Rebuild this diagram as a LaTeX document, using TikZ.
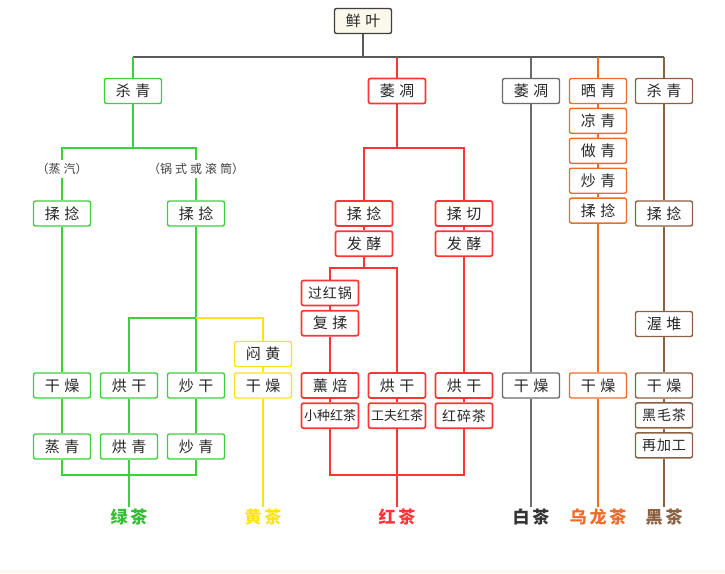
\documentclass[tikz,border=0pt]{standalone}
\usepackage{fontspec}
\setmainfont{Noto Sans CJK SC}
\usepackage{tikz}
\usetikzlibrary{positioning}
\definecolor{teaGreen}{HTML}{3AD23A}
\definecolor{teaYellow}{HTML}{FFE21A}
\definecolor{teaRed}{HTML}{FF3535}
\definecolor{teaGrey}{HTML}{6A6A6A}
\definecolor{teaOolong}{HTML}{F26A2A}
\definecolor{teaDark}{HTML}{8C6040}
\definecolor{leafFill}{HTML}{FBF9EC}
\newcommand{\tgap}{\hspace{4.5pt}}
\newcommand{\tsgap}{\hspace{1pt}}
\newcommand{\ngap}{\hspace{3pt}}
\tikzset{
  stepbox/.style={
    draw, rounded corners=2pt, fill=white, line width=1.4pt,
    minimum width=57pt, minimum height=25pt, inner sep=0pt,
    font=\fontsize{15}{17}\selectfont, text=black!85
  },
  gbox/.style={stepbox, draw=teaGreen},
  ybox/.style={stepbox, draw=teaYellow},
  rbox/.style={stepbox, draw=teaRed, line width=1.7pt},
  wbox/.style={stepbox, draw=teaGrey},
  obox/.style={stepbox, draw=teaOolong},
  dbox/.style={stepbox, draw=teaDark},
  midtxt/.style={font=\fontsize{14}{16}\selectfont},
  smalltxt/.style={font=\fontsize{13}{15}\selectfont},
  leafbox/.style={stepbox, fill=leafFill, draw=black!75},
  note/.style={font=\fontsize{12}{14}\selectfont, text=black!75, inner sep=3pt},
  teaname/.style={font=\fontsize{17}{19}\selectfont\bfseries, inner sep=2pt},
  link/.style={line width=1.4pt},
  kline/.style={link, black!65},
  gline/.style={link, teaGreen},
  yline/.style={link, teaYellow},
  rline/.style={link, teaRed, line width=2pt},
  wline/.style={link, teaGrey},
  oline/.style={link, teaOolong},
  dline/.style={link, teaDark}
}
\begin{document}
\begin{tikzpicture}[x=1pt, y=-1pt, node distance=3.5pt]
  \useasboundingbox (0,0) rectangle (725,573);
  \fill[leafFill] (0,570) rectangle (725,573);

  % fresh leaf and the five heads
  \node[leafbox] (leaf) at (363,21) {鲜\tgap 叶};
  \coordinate (leafBar) at (363,57);
  \node[gbox] (gSha) at (133,91) {杀\tgap 青};
  \node[rbox] (rWei) at (397,91) {萎\tgap 凋};
  \node[wbox] (wWei) at (531,91) {萎\tgap 凋};
  \node[obox] (oShai) at (598,91) {晒\tgap 青};
  \node[dbox] (dSha) at (664,91) {杀\tgap 青};

  % green and yellow
  \coordinate (gSplit) at (133,148);
  \node[note] (gSteam) at (62,169) {（蒸\ngap 汽）};
  \node[note] (gPan) at (196,169) {（锅\ngap 式\ngap 或\ngap 滚\ngap 筒）};
  \node[gbox] (gRou1) at (62,213.5) {揉\tgap 捻};
  \node[gbox] (gRou2) at (196,213.5) {揉\tgap 捻};
  \coordinate (gFork) at (196,318);
  \node[ybox] (yMen) at (263,354) {闷\tgap 黄};
  \node[gbox] (gDry) at (62,385.5) {干\tgap 燥};
  \node[gbox] (gHong) at (129,385.5) {烘\tgap 干};
  \node[gbox] (gChao) at (196,385.5) {炒\tgap 干};
  \node[ybox] (yDry) at (263,385.5) {干\tgap 燥};
  \node[gbox] (gZheng) at (62,446.5) {蒸\tgap 青};
  \node[gbox] (gHongQ) at (129,446.5) {烘\tgap 青};
  \node[gbox] (gChaoQ) at (196,446.5) {炒\tgap 青};
  \coordinate (gJoin) at (129,475);
  \node[teaname, text=teaGreen!90!black] (gTea) at (129,517) {绿\ngap 茶};
  \node[teaname, text=teaYellow] (yTea) at (263,517) {黄\ngap 茶};

  % red
  \coordinate (rSplit) at (397,148);
  \node[rbox] (rRou) at (364,213.5) {揉\tgap 捻};
  \node[rbox, below=of rRou] (rFa) {发\tgap 酵};
  \node[rbox] (rQie) at (464,213.5) {揉\tgap 切};
  \node[rbox, below=of rQie] (rFa2) {发\tgap 酵};
  \coordinate (rFork) at (364,268);
  \node[rbox, midtxt] (rGuo) at (330,293) {过\tsgap 红\tsgap 锅};
  \node[rbox, below=of rGuo] (rFu) {复\tgap 揉};
  \node[rbox] (rXun) at (330,385.5) {薰\tgap 焙};
  \node[rbox, smalltxt, below=of rXun] (rXiao) {小种红茶};
  \node[rbox] (rHong1) at (397,385.5) {烘\tgap 干};
  \node[rbox, smalltxt, below=of rHong1] (rGong) {工夫红茶};
  \node[rbox] (rHong2) at (464,385.5) {烘\tgap 干};
  \node[rbox, midtxt, below=of rHong2] (rSui) {红\tsgap 碎\tsgap 茶};
  \coordinate (rJoin) at (397,475);
  \node[teaname, text=teaRed] (rTea) at (397,517) {红\ngap 茶};

  % white
  \node[wbox] (wDry) at (531,385.5) {干\tgap 燥};
  \node[teaname, text=black!80] (wTea) at (531,517) {白\ngap 茶};

  % oolong
  \node[obox, below=of oShai] (oLiang) {凉\tgap 青};
  \node[obox, below=of oLiang] (oZuo) {做\tgap 青};
  \node[obox, below=of oZuo] (oChao) {炒\tgap 青};
  \node[obox, below=of oChao] (oRou) {揉\tgap 捻};
  \node[obox] (oDry) at (598,385.5) {干\tgap 燥};
  \node[teaname, text=teaOolong] (oTea) at (598,517) {乌\ngap 龙\ngap 茶};

  % dark
  \node[dbox] (dRou) at (664,213.5) {揉\tgap 捻};
  \node[dbox] (dWo) at (664,324) {渥\tgap 堆};
  \node[dbox] (dDry) at (664,385.5) {干\tgap 燥};
  \node[dbox, midtxt, below=of dDry] (dMao) {黑\tsgap 毛\tsgap 茶};
  \node[dbox, midtxt, below=of dMao] (dZai) {再\tsgap 加\tsgap 工};
  \node[teaname, text=teaDark] (dTea) at (664,517) {黑\ngap 茶};

  % connectors
  \draw[kline] (leaf.south) -- (leafBar);
  \draw[kline] (gSha.north |- leafBar) -- (dSha.north |- leafBar);
  \foreach \n/\s in {gSha/gline, rWei/rline, wWei/wline, oShai/oline, dSha/dline}{
    \draw[\s] (\n.north |- leafBar) -- (\n.north);
  }

  \draw[gline] (gSha.south) -- (gSplit);
  \draw[gline] (gSteam.north) |- (gSplit) -| (gPan.north);
  \draw[gline] (gSteam.south) -- (gRou1.north);
  \draw[gline] (gPan.south) -- (gRou2.north);
  \draw[gline] (gRou1.south) -- (gDry.north);
  \draw[gline] (gRou2.south) -- (gChao.north);
  \draw[gline] (gFork) -| (gHong.north);
  \draw[yline] (gFork) -| (yMen.north);
  \draw[yline] (yMen.south) -- (yDry.north);
  \draw[yline] (yDry.south) -- (yTea.north);
  \foreach \a/\b in {gDry/gZheng, gHong/gHongQ, gChao/gChaoQ}{
    \draw[gline] (\a.south) -- (\b.north);
  }
  \draw[gline] (gZheng.south) |- (gJoin) -| (gChaoQ.south);
  \draw[gline] (gHongQ.south) -- (gTea.north);

  \draw[rline] (rWei.south) -- (rSplit);
  \draw[rline] (rRou.north) |- (rSplit) -| (rQie.north);
  \draw[rline] (rFa.south) -- (rFork);
  \draw[rline] (rGuo.north) |- (rFork) -| (rHong1.north);
  \foreach \a/\b in {rRou/rFa, rQie/rFa2, rGuo/rFu, rFu/rXun, rXun/rXiao, rHong1/rGong, rFa2/rHong2, rHong2/rSui}{
    \draw[rline] (\a.south) -- (\b.north);
  }
  \draw[rline] (rXiao.south) |- (rJoin) -| (rSui.south);
  \draw[rline] (rGong.south) -- (rTea.north);

  \draw[wline] (wWei.south) -- (wDry.north);
  \draw[wline] (wDry.south) -- (wTea.north);

  \foreach \a/\b in {oShai/oLiang, oLiang/oZuo, oZuo/oChao, oChao/oRou, oRou/oDry, oDry/oTea}{
    \draw[oline] (\a.south) -- (\b.north);
  }
  \foreach \a/\b in {dSha/dRou, dRou/dWo, dWo/dDry, dDry/dMao, dMao/dZai, dZai/dTea}{
    \draw[dline] (\a.south) -- (\b.north);
  }
\end{tikzpicture}
\end{document}
